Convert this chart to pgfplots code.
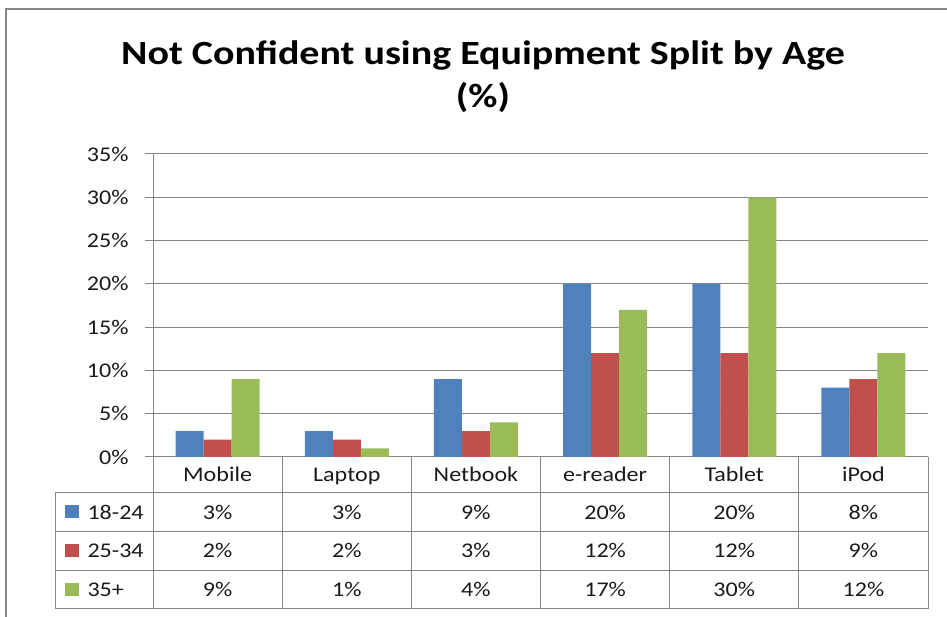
\documentclass[border=0pt]{standalone}
\usepackage{pgfplots}
\pgfplotsset{compat=1.18}
\usepackage{fontspec}
\setmainfont{Carlito}[FakeStretch=1.15]
\newfontfamily\titlefont{Carlito}[FakeStretch=1.18]
\definecolor{cA}{HTML}{4F81BD}
\definecolor{cB}{HTML}{C0504D}
\definecolor{cC}{HTML}{9BBB59}
\definecolor{gridc}{HTML}{868686}
\definecolor{txt}{HTML}{1A1A1A}
\begin{document}
\begin{tikzpicture}[x=1bp,y=1bp]
\useasboundingbox (0,0) rectangle (947,617);
\draw[gridc, line width=1.5bp] (6,0) -- (6,608) -- (947,608);
\node[anchor=base, font=\titlefont\fontsize{34}{40}\selectfont\bfseries] at (483,552.7) {Not Confident using Equipment Split by Age};
\node[anchor=base, font=\titlefont\fontsize{34}{40}\selectfont\bfseries] at (483,509) {(\%)};
\begin{axis}[at={(153bp,160bp)}, anchor=south west, scale only axis,
  width=775bp, height=303bp,
  ybar=0pt, bar width=28bp,
  xmin=-0.5, xmax=5.5, ymin=0, ymax=35,
  axis x line=bottom, axis y line=left,
  axis line style={gridc, line width=1bp, -},
  xtick=\empty,
  ytick={0,5,...,35},
  yticklabels={0\%,5\%,10\%,15\%,20\%,25\%,30\%,35\%},
  ymajorgrids, grid style={gridc, line width=1bp},
  ytick align=outside, major tick length=8bp,
  ytick style={gridc, line width=1bp},
  yticklabel style={font=\fontsize{21}{25}\selectfont, text=txt, anchor=east, xshift=-13bp},
  clip=false]
\addplot[fill=cA, draw=none] coordinates {(0,3) (1,3) (2,9) (3,20) (4,20) (5,8)};
\addplot[fill=cB, draw=none] coordinates {(0,2) (1,2) (2,3) (3,12) (4,12) (5,9)};
\addplot[fill=cC, draw=none] coordinates {(0,9) (1,1) (2,4) (3,17) (4,30) (5,12)};
\end{axis}
% data table
\begin{scope}[gridc, line width=1bp]
\draw (153,160) -- (153,8);
\foreach \xx in {282.2,411.3,540.5,669.7,798.8,928} \draw (\xx,160) -- (\xx,8);
\foreach \yy in {124,85.5,46.5,8} \draw (55,\yy) -- (928,\yy);
\draw (55,124) -- (55,8);
\end{scope}
\begin{scope}[every node/.style={anchor=base, text=txt, font=\fontsize{21}{25}\selectfont}]
\foreach \lab [count=\i from 0] in {Mobile,Laptop,Netbook,e-reader,Tablet,iPod}
  \node at ({153+129.17*(\i+0.5)},135) {\lab};
\foreach \v [count=\i from 0] in {3,3,9,20,20,8}
  \node at ({153+129.17*(\i+0.5)},97.7) {\v\%};
\foreach \v [count=\i from 0] in {2,2,3,12,12,9}
  \node at ({153+129.17*(\i+0.5)},59) {\v\%};
\foreach \v [count=\i from 0] in {9,1,4,17,30,12}
  \node at ({153+129.17*(\i+0.5)},20.3) {\v\%};
\node[anchor=base west] at (84,97.7) {18-24};
\node[anchor=base west] at (84,59) {25-34};
\node[anchor=base west] at (84,20.3) {35+};
\end{scope}
\fill[cA] (65,98.5) rectangle (79,111.5);
\fill[cB] (65,59.8) rectangle (79,72.8);
\fill[cC] (65,21.1) rectangle (79,34.1);
\end{tikzpicture}
\end{document}
